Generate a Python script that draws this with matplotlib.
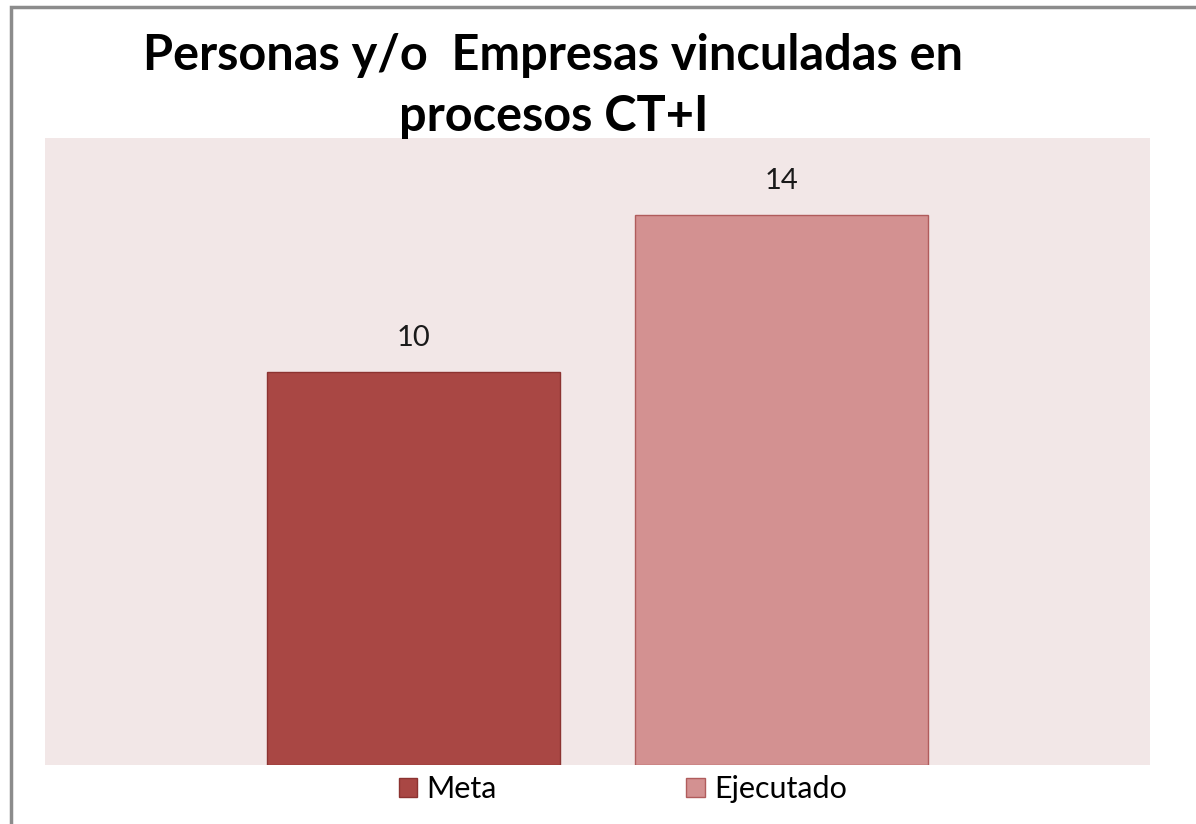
import matplotlib.pyplot as plt
from matplotlib.patches import Rectangle, Patch

# data
categories = ['Meta', 'Ejecutado']
values = [10, 14]
colors = ['#A94744', '#D39191']
edges = ['#8C3331', '#B05C5C']

plt.rcParams['font.family'] = ['Lato', 'DejaVu Sans']

fig = plt.figure(figsize=(11.96, 8.24), dpi=100)
W, H = 1196, 824

# outer chart border (cut off at right and bottom like the original)
fig.patches.append(Rectangle((11 / W, -0.05), 1.2, 1 - 7 / H + 0.05, transform=fig.transFigure,
                             fill=False, edgecolor='#8C8C8C', linewidth=2.5))

ax = fig.add_axes([45 / W, 1 - 765 / H, (1150 - 45) / W, (765 - 138) / H])
ax.set_facecolor('#F2E7E7')
x = range(len(categories))
bars = ax.bar(x, values, width=0.797, color=colors, edgecolor=edges, linewidth=1)
ax.set_xlim(-1.0, 2.0)
ax.set_ylim(0, 15.95)
for b, v in zip(bars, values):
    ax.text(b.get_x() + b.get_width() / 2, v + 0.52, str(v), ha='center', va='bottom',
            fontsize=21, color='#1A1A1A')
ax.set_xticks([])
ax.set_yticks([])
for s in ax.spines.values():
    s.set_visible(False)

fig.text(553 / W, 1 - 70 / H, 'Personas y/o  Empresas vinculadas en', ha='center', va='baseline',
         fontsize=35, fontweight='bold')
fig.text(554 / W, 1 - 131 / H, 'procesos CT+I', ha='center', va='baseline',
         fontsize=35, fontweight='bold')

handles = [Patch(facecolor=c, edgecolor=e, label=l) for c, e, l in zip(colors, edges, categories)]
fig.legend(handles=handles, loc='center', bbox_to_anchor=(623 / W, 1 - 789 / H), ncol=2,
           frameon=False, fontsize=22, handlelength=0.6, handleheight=0.6,
           handletextpad=0.3, columnspacing=6.2)

fig.savefig('out.png', dpi=100)
